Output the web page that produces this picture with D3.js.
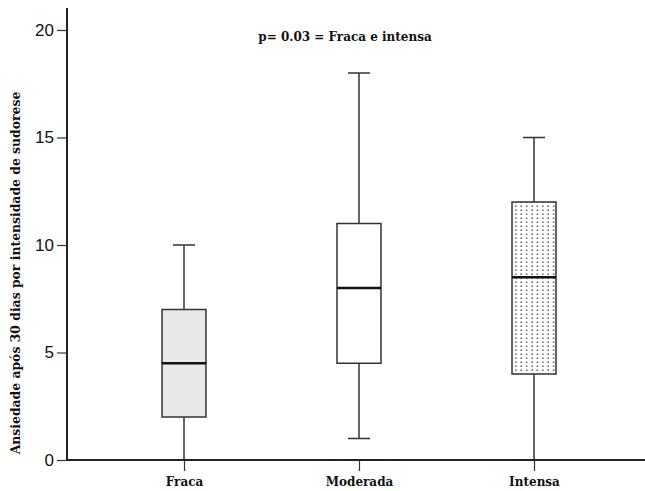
<!DOCTYPE html>
<html><head><meta charset="utf-8">
<script src="https://cdn.jsdelivr.net/npm/d3@7"></script>
<style>body{margin:0;background:#fff}</style>
</head><body>
<svg id="c" width="645" height="491"></svg>
<script>
const categories = ["Fraca", "Moderada", "Intensa"];
const mins    = [0, 1, 0];
const q1s     = [2, 4.5, 4];
const medians = [4.5, 8, 8.5];
const q3s     = [7, 11, 12];
const maxs    = [10, 18, 15];
const yTicks  = [0, 5, 10, 15, 20];
const title = "p= 0.03 = Fraca e intensa";
const yLabel = "Ansiedade após 30 dias por intensidade de sudorese";

const svg = d3.select("#c");
const defs = svg.append("defs");
const pat = defs.append("pattern").attr("id","dots").attr("patternUnits","userSpaceOnUse")
  .attr("width",5.4).attr("height",4).attr("x",0).attr("y",0);
pat.append("rect").attr("width",5.4).attr("height",4).attr("fill","#fff");
pat.append("rect").attr("x",2.2).attr("y",1.5).attr("width",1.4).attr("height",1.4).attr("fill","#444");

const y = d3.scaleLinear().domain([0,20]).range([460,30]);
const x = d3.scalePoint().domain(categories).range([184,534]);
const axisX0 = 67;

const fills = ["#e8e8e8", "#ffffff", "url(#dots)"];
const boxW = 44, capW = 22;

const data = categories.map((c,i)=>({c, min:mins[i], q1:q1s[i], med:medians[i], q3:q3s[i], max:maxs[i], fill:fills[i]}));

const g = svg.append("g");
data.forEach(d=>{
  const cx = x(d.c);
  g.append("line").attr("x1",cx).attr("x2",cx).attr("y1",y(d.max)).attr("y2",y(d.q3)).attr("stroke","#333").attr("stroke-width",1.5);
  g.append("line").attr("x1",cx).attr("x2",cx).attr("y1",y(d.q1)).attr("y2",y(d.min)).attr("stroke","#333").attr("stroke-width",1.5);
  if (d.max > d.q3) g.append("line").attr("x1",cx-capW/2).attr("x2",cx+capW/2).attr("y1",y(d.max)).attr("y2",y(d.max)).attr("stroke","#333").attr("stroke-width",1.5);
  if (d.min > 0) g.append("line").attr("x1",cx-capW/2).attr("x2",cx+capW/2).attr("y1",y(d.min)).attr("y2",y(d.min)).attr("stroke","#333").attr("stroke-width",1.5);
  g.append("rect").attr("x",cx-boxW/2).attr("y",y(d.q3)).attr("width",boxW).attr("height",y(d.q1)-y(d.q3))
    .attr("fill",d.fill).attr("stroke","#333").attr("stroke-width",1.5);
  g.append("line").attr("x1",cx-boxW/2).attr("x2",cx+boxW/2).attr("y1",y(d.med)).attr("y2",y(d.med)).attr("stroke","#111").attr("stroke-width",2.5);
});

// y axis
const ya = svg.append("g").attr("transform",`translate(${axisX0},0)`)
  .call(d3.axisLeft(y).tickValues(yTicks).tickSize(10).tickPadding(3).tickSizeOuter(0));
ya.select(".domain").remove();
ya.append("line").attr("x1",0).attr("x2",0).attr("y1",8).attr("y2",461).attr("stroke","#222").attr("stroke-width",2);
ya.selectAll(".tick line").attr("stroke","#333").attr("stroke-width",1.2);
ya.selectAll(".tick text").attr("font-family","Liberation Sans, Arial, sans-serif").attr("font-size",17).attr("fill","#111");

// x axis
const xa = svg.append("g").attr("transform","translate(0,460)")
  .call(d3.axisBottom(x).tickSize(11).tickPadding(6));
xa.select(".domain").remove();
xa.append("line").attr("x1",axisX0).attr("x2",645).attr("y1",0).attr("y2",0).attr("stroke","#222").attr("stroke-width",2);
xa.selectAll(".tick line").attr("stroke","#333").attr("stroke-width",1.2);
xa.selectAll(".tick text").attr("font-family","DejaVu Serif, serif").attr("font-weight","bold").attr("font-size",12).attr("fill","#111");

svg.append("text").attr("x",345).attr("y",41).attr("text-anchor","middle")
  .attr("font-family","DejaVu Serif, serif").attr("font-weight","bold").attr("font-size",12).attr("fill","#111").text(title);

svg.append("text").attr("transform","translate(20,273) rotate(-90)").attr("text-anchor","middle")
  .attr("font-family","DejaVu Serif, serif").attr("font-weight","bold").attr("font-size",12.4).attr("fill","#111").text(yLabel);
</script>
</body></html>
